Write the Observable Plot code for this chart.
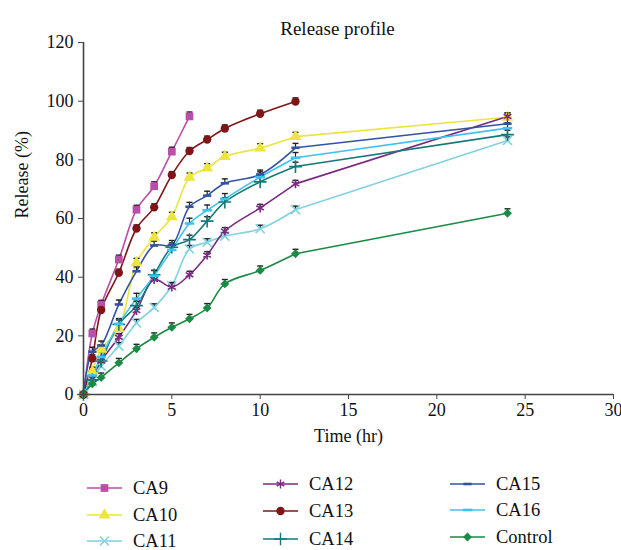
<!DOCTYPE html>
<html>
<head>
<meta charset="utf-8">
<script src="https://cdn.jsdelivr.net/npm/d3@7"></script>
<script src="https://cdn.jsdelivr.net/npm/@observablehq/plot@0.6"></script>
<style>
  html, body { margin: 0; padding: 0; background: #fff; }
  #wrap { position: relative; width: 621px; height: 550px; font-family: 'Liberation Serif', 'DejaVu Serif', serif; }
  #legend { position: absolute; left: 0; top: 0; width: 621px; height: 550px; pointer-events: none; }
  .item { position: absolute; display: flex; align-items: center; font-size: 18.5px; color: #111; }
  .item svg { margin-right: 11px; }
</style>
</head>
<body>
<div id="wrap"><div id="chart"></div><div id="legend"></div></div>
<script>
// ---- data ----
const time = [0, 0.5, 1, 2, 3, 4, 5, 6, 7, 8, 10, 12, 24];
const CA9 = [0, 20.8, 30.6, 46, 63, 71, 82.8, 94.8];
const CA10 = [0, 7.8, 15.4, 22.4, 44.9, 53.6, 60.6, 74.0, 77.2, 81.1, 84.0, 87.9, 94.5];
const CA11 = [0, 4.5, 9.7, 16.5, 24.4, 29.7, 37.0, 49.6, 51.9, 54.0, 56.5, 63.0, 86.6];
const CA12 = [0, 5.5, 11.4, 19.5, 28.6, 39.2, 36.6, 40.8, 47.5, 55.7, 63.6, 71.8, 94.8];
const CA13 = [0, 12.3, 28.8, 41.5, 56.6, 63.8, 74.8, 83.0, 86.9, 90.7, 95.7, 99.9];
const CA14 = [0, 5.0, 11.4, 23.9, 30.3, 40.8, 50.2, 52.8, 59.1, 65.6, 72.5, 77.7, 88.6];
const CA15 = [0, 14.6, 16.7, 30.7, 42.0, 50.8, 51.0, 64.0, 67.8, 72.0, 75.0, 84.1, 92.3];
const CA16 = [0, 6.5, 12.8, 24.1, 32.7, 40.5, 49.3, 58.3, 62.8, 66.7, 74.1, 80.7, 90.8];
const Control = [0, 3.6, 5.8, 10.8, 15.6, 19.5, 22.9, 25.8, 29.5, 37.7, 42.3, 48.0, 61.8];
const seriesNames = ["CA9", "CA10", "CA11", "CA12", "CA13", "CA14", "CA15", "CA16", "Control"];
const seriesValues = [CA9, CA10, CA11, CA12, CA13, CA14, CA15, CA16, Control];
const seriesErr = [1.5, 1.5, 1.2, 1.2, 1.2, 1.5, 1.5, 1.8, 1.5];
const yTicks = [0, 20, 40, 60, 80, 100, 120];
const xTicks = [0, 5, 10, 15, 20, 25, 30];
const title = "Release profile";
const xLabel = "Time (hr)";
const yLabel = "Release (%)";

// ---- styles ----
const FONT = "'Liberation Serif', 'DejaVu Serif', serif";
const colors = ["#b94fa9", "#ece53c", "#80d2e0", "#7a2b80", "#801517", "#15797a", "#3152a5", "#3cc3f2", "#1a8a45"];
const dash = { draw(ctx, size) { const w = Math.sqrt(size) * 1.5; ctx.rect(-w / 2, -1.3, w, 2.6); } };
const cap = { draw(ctx) { ctx.moveTo(-3, 0); ctx.lineTo(3, 0); } };
const symbols = [d3.symbolSquare, d3.symbolTriangle, d3.symbolTimes, d3.symbolAsterisk, d3.symbolCircle, d3.symbolPlus, dash, dash, d3.symbolDiamond2];
const strokeSyms = new Set([2, 3, 5]);
const symSize = [60, 60, 55, 55, 55, 55, 30, 40, 50];

const rows = [];
seriesNames.forEach((name, i) => {
  seriesValues[i].forEach((v, j) => rows.push({ series: name, idx: i, t: time[j], v, err: seriesErr[i] }));
});

const marks = [];
seriesNames.forEach((name, i) => {
  const data = rows.filter(d => d.idx === i);
  // smoothed through the dense early samples, straight over the long last interval
  marks.push(Plot.line(data.filter(d => d.t <= 12), { x: "t", y: "v", stroke: colors[i], strokeWidth: 1.6, curve: "catmull-rom" }));
  const tail = data.filter(d => d.t >= 12);
  if (tail.length > 1) marks.push(Plot.line(tail, { x: "t", y: "v", stroke: colors[i], strokeWidth: 1.6 }));
});
// error bars
marks.push(Plot.ruleX(rows.filter(d => d.t > 0), { x: "t", y1: "v", y2: d => d.v + d.err, stroke: "#222", strokeWidth: 1.2 }));
marks.push(Plot.dot(rows.filter(d => d.t > 0), { x: "t", y: d => d.v + d.err, symbol: cap, stroke: "#222", strokeWidth: 1.4, r: 3 }));
seriesNames.forEach((name, i) => {
  const data = rows.filter(d => d.idx === i);
  const isStroke = strokeSyms.has(i);
  marks.push(Plot.dot(data, {
    x: "t", y: "v", symbol: symbols[i], r: Math.sqrt(symSize[i] / Math.PI),
    fill: isStroke ? "none" : colors[i], stroke: isStroke ? colors[i] : "none", strokeWidth: 1.6
  }));
});

const chart = Plot.plot({
  width: 621,
  height: 460,
  marginTop: 42,
  marginBottom: 66,
  marginLeft: 83,
  marginRight: 8,
  style: { fontFamily: FONT, fontSize: "17px", color: "#111", background: "#fff" },
  x: { domain: [0, 30], ticks: xTicks, tickSize: 5, tickPadding: 3, label: null },
  y: { domain: [0, 120], ticks: yTicks, tickSize: 5, tickPadding: 5, label: null },
  marks: [
    ...marks,
    Plot.ruleY([0], { stroke: "#444", strokeWidth: 1.6 }),
    Plot.ruleX([0], { stroke: "#444", strokeWidth: 1.6 }),
    Plot.axisX({ ticks: xTicks, tickSize: 5, tickPadding: 4, stroke: "#444", fontSize: 18, label: null }),
    Plot.axisY({ ticks: yTicks, tickSize: 5, tickPadding: 5, stroke: "#444", fontSize: 18, label: null }),
    Plot.text([title], { frameAnchor: "top", dy: -21, dx: -11, fontSize: 19, fill: "#111" }),
    Plot.text([xLabel], { frameAnchor: "bottom", dy: 47, fontSize: 18, fill: "#111" }),
    Plot.text([yLabel], { frameAnchor: "left", dx: -61, rotate: -90, fontSize: 18, fill: "#111" })
  ]
});
document.getElementById("chart").appendChild(chart);

// ---- legend ----
const legendCols = [87, 263, 450];
const legendRows = [[488, 515, 541], [484, 511, 539], [484, 510, 537]];
const legend = document.getElementById("legend");
seriesNames.forEach((name, i) => {
  const c = Math.floor(i / 3), r = i % 3;
  const el = document.createElement("div");
  el.className = "item";
  el.style.left = legendCols[c] + "px";
  el.style.top = (legendRows[c][r] - 12) + "px";
  el.style.height = "24px";
  const svg = d3.create("svg").attr("width", 35).attr("height", 16);
  svg.append("line").attr("x1", 0).attr("x2", 35).attr("y1", 8).attr("y2", 8).attr("stroke", colors[i]).attr("stroke-width", 1.6);
  const isStroke = strokeSyms.has(i);
  svg.append("path").attr("transform", "translate(17.5,8)")
    .attr("d", d3.symbol(symbols[i], symSize[i])())
    .attr("fill", isStroke ? "none" : colors[i]).attr("stroke", isStroke ? colors[i] : "none").attr("stroke-width", 1.4);
  el.appendChild(svg.node());
  const span = document.createElement("span");
  span.textContent = name;
  el.appendChild(span);
  legend.appendChild(el);
});
</script>
</body>
</html>
